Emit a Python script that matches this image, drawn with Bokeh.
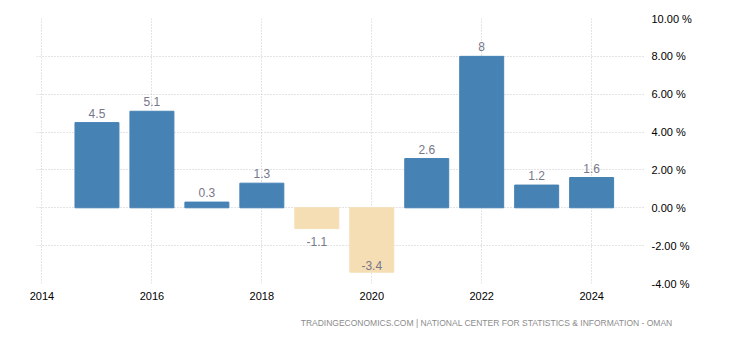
from bokeh.plotting import figure
from bokeh.models import Range1d, LinearAxis, SingleIntervalTicker, CustomJSTickFormatter, ColumnDataSource, Title
from bokeh.embed import file_html
from bokeh.resources import INLINE
from bokeh.core.properties import value

years = [2015, 2016, 2017, 2018, 2019, 2020, 2021, 2022, 2023, 2024]
growth = [4.5, 5.1, 0.3, 1.3, -1.1, -3.4, 2.6, 8.0, 1.2, 1.6]
labels = ["4.5", "5.1", "0.3", "1.3", "-1.1", "-3.4", "2.6", "8", "1.2", "1.6"]
source_text = "TRADINGECONOMICS.COM | NATIONAL CENTER FOR STATISTICS & INFORMATION - OMAN"

POS = "#4682B4"
NEG = "#F5DEB3"
FONT = "Liberation Sans"

colors = [POS if v >= 0 else NEG for v in growth]
ymin, ymax = -4, 10

p = figure(width=730, height=340, output_backend="svg", toolbar_location=None,
           x_range=Range1d(2013.9, 2024.98), y_range=Range1d(ymin, ymax),
           min_border_left=36, min_border_right=85, min_border_top=18, min_border_bottom=57,
           y_axis_location=None, x_axis_location=None)
p.outline_line_color = None
p.background_fill_color = "white"
p.border_fill_color = "white"

src = ColumnDataSource(dict(x=years, top=growth, color=colors))
p.vbar(x="x", top="top", bottom=0, width=0.8, color="color", source=src)

# labels
pos_x, pos_y, pos_t = [], [], []
neg_x, neg_y, neg_t = [], [], []
clip_x, clip_y, clip_t = [], [], []
for x, v, t in zip(years, growth, labels):
    if v >= 0:
        pos_x.append(x); pos_y.append(v); pos_t.append(t)
    elif v > ymin + 1:
        neg_x.append(x); neg_y.append(v); neg_t.append(t)
    else:
        clip_x.append(x); clip_y.append(v); clip_t.append(t)

lab_style = dict(text_font=value(FONT), text_font_size="12px", text_color="#77778a", text_align="center")
p.text(x=pos_x, y=pos_y, text=pos_t, text_baseline="bottom", y_offset=-5, **lab_style)
p.text(x=neg_x, y=neg_y, text=neg_t, text_baseline="top", y_offset=8, **lab_style)
p.text(x=clip_x, y=clip_y, text=clip_t, text_baseline="bottom", y_offset=-2, **lab_style)

# x axis
xaxis = LinearAxis(ticker=SingleIntervalTicker(interval=2))
xaxis.axis_line_color = None
xaxis.major_tick_line_color = None
xaxis.minor_tick_line_color = None
xaxis.major_label_text_font = FONT
xaxis.major_label_text_font_size = "11px"
xaxis.major_label_text_color = "#000000"
xaxis.major_label_standoff = 2
p.add_layout(xaxis, "below")

# y axis right
yaxis = LinearAxis(ticker=SingleIntervalTicker(interval=2))
yaxis.axis_line_color = None
yaxis.major_tick_line_color = None
yaxis.minor_tick_line_color = None
yaxis.major_label_text_font = FONT
yaxis.major_label_text_font_size = "11px"
yaxis.major_label_text_color = "#000000"
yaxis.major_label_standoff = 0
yaxis.formatter = CustomJSTickFormatter(code="return tick.toFixed(2) + ' %';")
p.add_layout(yaxis, "right")

p.xgrid.ticker = SingleIntervalTicker(interval=2)
p.ygrid.ticker = SingleIntervalTicker(interval=2)
for g in (p.xgrid, p.ygrid):
    g.grid_line_color = "#c8c8c8"
    g.grid_line_dash = "1 2"
    g.grid_line_width = 1

src_title = Title(text=source_text, align="right", text_font=FONT, text_font_size="8.5px",
                  text_color="#8c8c8c", text_font_style="normal", offset=-27,
                  standoff=26)
p.add_layout(src_title, "below")

open("out.html", "w").write(file_html(p, INLINE))
